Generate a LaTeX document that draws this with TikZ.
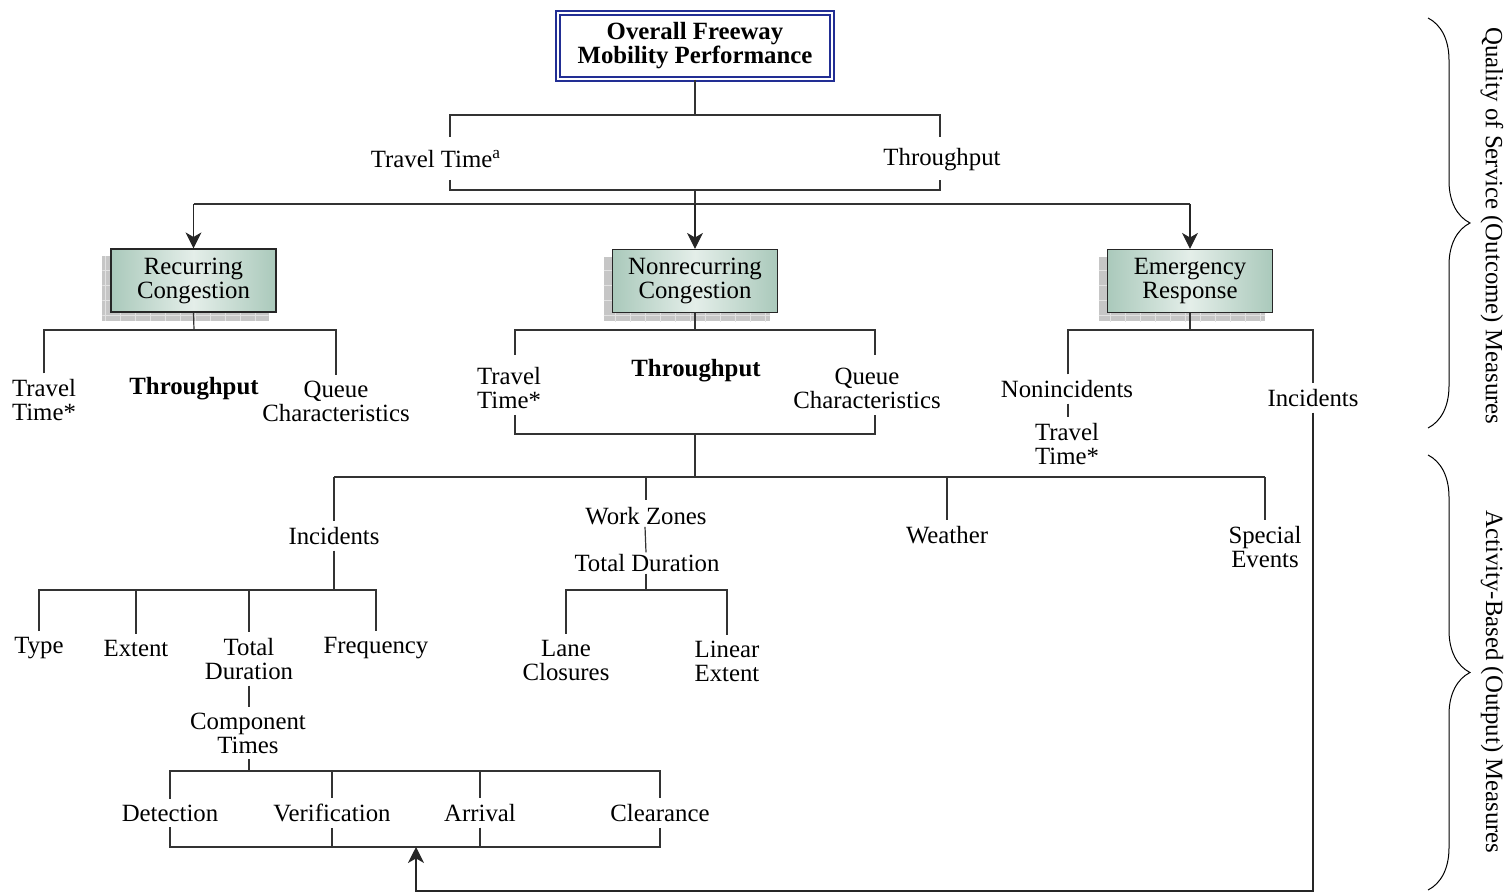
\documentclass[tikz,border=0pt]{standalone}
\usepackage{fontspec}
\setmainfont{Liberation Serif}
\usetikzlibrary{arrows.meta,decorations.pathreplacing,backgrounds,calc}

\definecolor{frameblue}{RGB}{34,46,148}
\definecolor{boxedge}{RGB}{170,201,187}
\definecolor{boxmid}{RGB}{228,238,233}
\definecolor{shadowgray}{RGB}{198,198,198}
\definecolor{gridline}{RGB}{226,226,226}

\newcommand\lblfont{\fontsize{12.4}{12}\selectfont}

\tikzset{
  lbl/.style={font=\lblfont, align=center, inner sep=0pt, outer sep=3pt},
  blbl/.style={lbl, font=\lblfont\bfseries},
  topbox/.style={draw=frameblue, double=white, double distance=1pt, line width=1.1pt,
    minimum width=136.8pt, minimum height=32.8pt, align=center, inner sep=0pt,
    font=\lblfont\bfseries},
  catbox/.style={draw=black!85, line width=0.6pt, minimum width=82.5pt, minimum height=31.5pt,
    align=center, inner sep=0pt, font=\lblfont,
    left color=boxedge, right color=boxedge, middle color=boxmid},
  wire/.style={draw=black!80, line width=0.6pt},
  arr/.style={draw=black!85, line width=0.6pt, -{Stealth[length=8pt,width=8pt,inset=2.3pt]}},
  brc/.style={draw=black, line width=0.5pt, decorate, decoration={brace, amplitude=21pt}},
}

\newcommand\gridshadow[1]{%
  \begin{scope}[on background layer]
    \path[fill=shadowgray] ($(#1.south west)+(-8,8)$) rectangle ($(#1.north east)+(-8,8)$);
    \begin{scope}
      \clip ($(#1.south west)+(-8,8)$) rectangle ($(#1.north east)+(-8,8)$);
      \draw[gridline, line width=0.4pt, step=7.5pt]
        ($(#1.south west)+(-20,20)$) grid ($(#1.north east)+(0,0)$);
    \end{scope}
  \end{scope}}

\begin{document}
\begin{tikzpicture}[x=0.5pt,y=-0.5pt]
\useasboundingbox (0,0) rectangle (1511,893);

% ---------- top of the hierarchy ----------
\node[topbox] (top) at (695,46) {Overall Freeway\\Mobility Performance};
\node[lbl] (tt) at (436,159) {Travel Time\textsuperscript{a}};
\node[lbl] (tp) at (942,160) {Throughput};

\coordinate (q1) at (695,115);
\coordinate (q1a) at (450,137);
\coordinate (q1b) at (940,137);
\coordinate (q2) at (695,190);
\coordinate (q2a) at (450,180);
\coordinate (q2b) at (940,180);
\coordinate (hub) at (695,204);

\draw[wire] (top.south) -- (q1);
\draw[wire] (q1a) -- (q1a |- q1) -- (q1b |- q1) -- (q1b);
\draw[wire] (q2a) -- (q2a |- q2) -- (q2b |- q2) -- (q2b);
\draw[wire] (q2) -- (hub);

% ---------- congestion categories ----------
\node[catbox] (rc) at (193.5,280.5) {Recurring\\Congestion};
\node[catbox] (nc) at (695,281) {Nonrecurring\\Congestion};
\node[catbox] (er) at (1190,281) {Emergency\\Response};
\gridshadow{rc}
\gridshadow{nc}
\gridshadow{er}

\draw[wire] (hub -| rc.north) -- (hub -| er.north);
\draw[arr] (hub -| rc.north) -- (rc.north);
\draw[arr] (hub) -- (nc.north);
\draw[arr] (hub -| er.north) -- (er.north);

% ---------- recurring congestion measures ----------
\node[lbl] (rctt) at (44,400) {Travel\\Time*};
\node[blbl] (rctp) at (194,389) {Throughput};
\node[lbl] (rcqc) at (336,401) {Queue\\Characteristics};
\coordinate (rcj) at (194,330);
\draw[wire] (rc.south) -- (rcj);
\draw[wire] (rctt.north) -- (rctt.north |- rcj) -- (rcqc.north |- rcj) -- (rcqc.north);

% ---------- nonrecurring congestion measures ----------
\node[lbl] (nctt) at (509,388) {Travel\\Time*};
\node[blbl] (nctp) at (696,371) {Throughput};
\node[lbl] (ncqc) at (867,388) {Queue\\Characteristics};
\coordinate (ncj) at (695,330);
\coordinate (ncl) at (515,355);
\coordinate (ncr) at (875,355);
\coordinate (ncbl) at (515,415);
\coordinate (ncbr) at (875,415);
\coordinate (ncb) at (695,434);
\draw[wire] (nc.south) -- (ncj);
\draw[wire] (ncl) -- (ncl |- ncj) -- (ncr |- ncj) -- (ncr);
\draw[wire] (ncbl) -- (ncbl |- ncb) -- (ncbr |- ncb) -- (ncbr);

% ---------- emergency response measures ----------
\node[lbl] (eni) at (1067,389) {Nonincidents};
\node[lbl] (ett) at (1067,444) {Travel\\Time*};
\node[lbl] (einc) at (1313,398) {Incidents};
\coordinate (erj) at (1190,330);
\draw[wire] (er.south) -- (erj);
\draw[wire] ([xshift=0.5pt]eni.north) -- ([xshift=0.5pt]eni.north |- erj) -- (einc.north |- erj) -- (einc.north);
\draw[wire] ([xshift=0.5pt]eni.south) -- ([xshift=0.5pt]ett.north);

% ---------- nonrecurring causes ----------
\coordinate (cj) at (695,477);
\node[lbl] (ci) at (334,536) {Incidents};
\node[lbl, outer sep=1pt] (cwz) at (646,516) {Work Zones};
\node[lbl] (cwe) at (947,535) {Weather};
\node[lbl] (cse) at (1265,547) {Special\\Events};
\draw[wire] (ncb) -- (cj);
\draw[wire] (ci.north |- cj) -- (cse.north |- cj);
\draw[wire] (ci.north |- cj) -- (ci.north);
\draw[wire] (cwz.north |- cj) -- ([yshift=2.5pt]cwz.north);
\draw[wire] (cwe.north |- cj) -- (cwe.north);
\draw[wire] (cse.north |- cj) -- (cse.north);

% ---------- incident attributes ----------
\coordinate (ij) at (334,590);
\node[lbl] (ity) at (39,648) {Type};
\node[lbl] (iex) at (136,648) {Extent};
\node[lbl] (itd) at (249,659) {Total\\Duration};
\node[lbl] (ifr) at (376,648) {Frequency};
\draw[wire] (ci.south) -- (ij);
\draw[wire] (ity.north) -- (ity.north |- ij) -- (ifr.north |- ij) -- (ifr.north);
\draw[wire] (iex.north |- ij) -- (iex.north);
\draw[wire] (itd.north |- ij) -- (itd.north);

\node[lbl] (ict) at (248,733) {Component\\Times};
\draw[wire] (itd.south) -- (itd.south |- ict.north);

\coordinate (kj) at (249,771);
\node[lbl] (kde) at (170,813) {Detection};
\node[lbl] (kve) at (332,813) {Verification};
\node[lbl] (kar) at (480,813) {Arrival};
\node[lbl] (kcl) at (660,813) {Clearance};
\draw[wire] (ict.south -| kj) -- (kj);
\draw[wire] (kde.north) -- (kde.north |- kj) -- (kcl.north |- kj) -- (kcl.north);
\draw[wire] (kve.north |- kj) -- (kve.north);
\draw[wire] (kar.north |- kj) -- (kar.north);

\coordinate (kb) at (416,847);
\draw[wire] (kde.south) -- (kde.south |- kb) -- (kcl.south |- kb) -- (kcl.south);
\draw[wire] (kve.south) -- (kve.south |- kb);
\draw[wire] (kar.south) -- (kar.south |- kb);

% emergency-response incidents feed the component times
\coordinate (lp) at (1313,891);
\draw[arr] (einc.south) -- (lp) -| (kb);

% ---------- work zone attributes ----------
\node[lbl, outer sep=1pt] (wtd) at (647,563) {Total Duration};
\coordinate (wj) at (646,590);
\node[lbl] (wlc) at (566,660) {Lane\\Closures};
\node[lbl] (wle) at (727,661) {Linear\\Extent};
\draw[wire] ([xshift=-0.5pt]cwz.south) -- ([xshift=-0.5pt]wtd.north);
\draw[wire] ([xshift=-0.5pt]wtd.south) -- (wj);
\draw[wire] (wlc.north) -- (wlc.north |- wj) -- (wle.north |- wj) -- (wle.north);

% ---------- measure classes ----------
\draw[brc] (1428,18) -- (1428,428);
\draw[brc] (1428,455) -- (1428,890);
\node[lbl, rotate=-90] (qos) at (1492,226) {Quality of Service (Outcome) Measures};
\node[lbl, rotate=-90] (abm) at (1492,682) {Activity-Based (Output) Measures};

\end{tikzpicture}
\end{document}
